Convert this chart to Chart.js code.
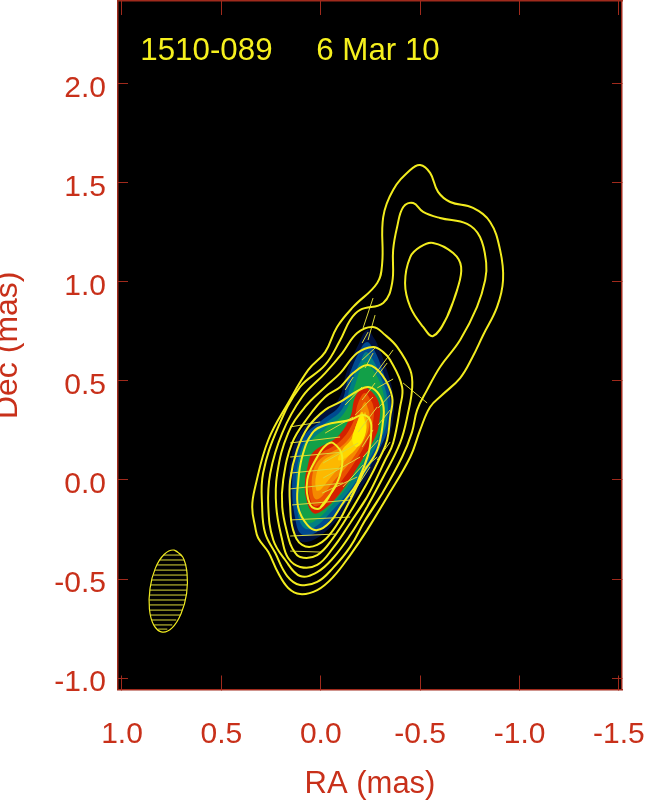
<!DOCTYPE html>
<html>
<head>
<meta charset="utf-8">
<style>html,body{margin:0;padding:0;background:#fff}canvas{display:block}</style>
<script src="https://cdn.jsdelivr.net/npm/chart.js@4/dist/chart.umd.min.js"></script>
</head>
<body>
<canvas id="c" width="645" height="801" style="width:645px;height:801px"></canvas>
<script>
const sourceName = '1510-089';
const obsDate = '6 Mar 10';
const xTickValues = [1, 0.5, 0, -0.5, -1, -1.5];
const yTickValues = [-1, -0.5, 0, 0.5, 1, 1.5, 2];
const xRange = [-1.5153, 1.0201];
const yRange = [-1.058, 2.419];

// contours: [RA, Dec] in mas; each list starts on a straight flank of the curve
const contour1 = [[-0.334,-0.086],[-0.233,-0.253],[-0.148,-0.379],[-0.062,-0.490],[0.018,-0.556],[0.104,-0.576],[0.164,-0.545],[0.214,-0.470],[0.264,-0.364],[0.315,-0.293],[0.330,-0.237],[0.345,-0.136],[0.330,-0.035],[0.264,0.202],[0.164,0.389],[0.063,0.556],[-0.022,0.646],[-0.082,0.773],[-0.163,0.874],[-0.284,0.995],[-0.309,1.096],[-0.314,1.328],[-0.364,1.465],[-0.450,1.566],[-0.500,1.591],[-0.550,1.551],[-0.590,1.455],[-0.651,1.404],[-0.766,1.374],[-0.852,1.303],[-0.902,1.162],[-0.917,1.010],[-0.887,0.874],[-0.817,0.732],[-0.761,0.616],[-0.701,0.515],[-0.610,0.429],[-0.550,0.369],[-0.500,0.253],[-0.450,0.116]];
const contour2 = [[-0.304,-0.076],[-0.218,-0.212],[-0.148,-0.338],[-0.062,-0.444],[0.018,-0.515],[0.104,-0.530],[0.169,-0.485],[0.229,-0.369],[0.280,-0.268],[0.295,-0.136],[0.290,0.035],[0.214,0.268],[0.104,0.470],[-0.022,0.581],[-0.098,0.707],[-0.148,0.808],[-0.198,0.859],[-0.314,0.894],[-0.359,0.995],[-0.364,1.162],[-0.384,1.278],[-0.415,1.379],[-0.465,1.399],[-0.515,1.354],[-0.600,1.323],[-0.736,1.293],[-0.801,1.227],[-0.832,1.096],[-0.827,1.010],[-0.786,0.874],[-0.701,0.707],[-0.600,0.571],[-0.535,0.455],[-0.485,0.354],[-0.459,0.242],[-0.409,0.116]];
const contourLobe = [[-0.686,0.960],[-0.635,0.823],[-0.565,0.727],[-0.515,0.773],[-0.450,0.874],[-0.424,0.995],[-0.450,1.126],[-0.500,1.177],[-0.565,1.197],[-0.666,1.146],[-0.706,1.076]];
const contour3 = [[-0.314,0.015],[-0.233,-0.136],[-0.148,-0.278],[-0.062,-0.394],[0.018,-0.465],[0.104,-0.485],[0.179,-0.404],[0.239,-0.303],[0.264,-0.136],[0.254,0.035],[0.194,0.237],[0.094,0.419],[-0.022,0.540],[-0.108,0.641],[-0.183,0.742],[-0.263,0.773],[-0.324,0.732],[-0.384,0.672],[-0.450,0.556],[-0.460,0.470],[-0.439,0.338],[-0.399,0.187]];
const contour4 = [[-0.233,-0.086],[-0.148,-0.217],[-0.062,-0.343],[0.018,-0.429],[0.104,-0.439],[0.164,-0.394],[0.194,-0.303],[0.224,-0.136],[0.219,0.035],[0.164,0.237],[0.079,0.369],[-0.022,0.470],[-0.098,0.540],[-0.183,0.641],[-0.263,0.672],[-0.314,0.646],[-0.349,0.606],[-0.409,0.470],[-0.399,0.369],[-0.364,0.187],[-0.324,0.101]];
const contour5 = [[-0.233,-0.015],[-0.148,-0.162],[-0.062,-0.293],[0.018,-0.379],[0.104,-0.389],[0.144,-0.343],[0.164,-0.288],[0.194,-0.136],[0.189,0],[0.144,0.187],[0.063,0.318],[-0.022,0.419],[-0.098,0.470],[-0.163,0.540],[-0.238,0.581],[-0.309,0.530],[-0.359,0.419],[-0.349,0.318],[-0.334,0.202],[-0.299,0.116]];
const contour6 = [[-0.213,0.035],[-0.148,-0.101],[-0.062,-0.253],[0.018,-0.328],[0.094,-0.328],[0.139,-0.253],[0.154,-0.136],[0.154,0],[0.119,0.152],[0.063,0.268],[-0.022,0.354],[-0.098,0.394],[-0.183,0.449],[-0.238,0.470],[-0.284,0.444],[-0.314,0.379],[-0.314,0.303],[-0.284,0.152]];
const contour7 = [[-0.183,-0.015],[-0.238,0.126],[-0.253,0.227],[-0.248,0.303],[-0.208,0.328],[-0.148,0.303],[-0.022,0.278],[0.043,0.237],[0.094,0.116],[0.114,-0.015],[0.114,-0.136],[0.068,-0.227],[0.018,-0.253],[-0.047,-0.212],[-0.112,-0.116]];
const contour8 = [[-0.082,-0.015],[0.003,-0.141],[0.053,-0.126],[0.068,0],[0.018,0.116],[-0.022,0.172],[-0.062,0.187],[-0.108,0.116]];

// clean beam outline and its horizontal hatching
const beamOutline = [[0.737,-0.354],[0.695,-0.388],[0.673,-0.469],[0.675,-0.574],[0.703,-0.676],[0.748,-0.747],[0.798,-0.768],[0.840,-0.733],[0.862,-0.653],[0.859,-0.547],[0.832,-0.445],[0.787,-0.375]];
const hatchDec = [-0.379,-0.404,-0.429,-0.455,-0.480,-0.505,-0.530,-0.556,-0.581,-0.606,-0.631,-0.657,-0.682,-0.707,-0.732,-0.753];
const hatchEast = [0.792,0.813,0.823,0.835,0.843,0.850,0.855,0.860,0.863,0.863,0.863,0.863,0.858,0.850,0.838,0.818];
const hatchWest = [0.702,0.687,0.677,0.672,0.672,0.672,0.672,0.674,0.677,0.682,0.689,0.697,0.707,0.727,0.747,0.772];

// polarisation sticks: [RA1, Dec1, RA2, Dec2]
const sticks = [[0.154,0.268,0.003,0.293],[0.154,0.187,-0.097,0.217],[0.154,0.116,-0.112,0.141],[0.154,0.035,-0.108,0.061],[0.154,-0.045,-0.112,-0.015],[0.144,-0.126,-0.148,-0.101],[0.154,-0.202,-0.148,-0.187],[0.154,-0.283,-0.072,-0.273],[0.154,-0.359,-0.002,-0.364],
[-0.213,0.768,-0.263,0.919],[-0.238,0.707,-0.273,0.833],[-0.208,0.692,-0.238,0.747],[-0.208,0.606,-0.273,0.667],[-0.223,0.566,-0.263,0.641],[-0.263,0.520,-0.364,0.657],[-0.299,0.545,-0.334,0.591],[-0.123,0.455,-0.163,0.520],[-0.284,0.465,-0.364,0.510],[-0.123,0.379,-0.208,0.470],[-0.208,0.404,-0.273,0.490],[-0.289,0.364,-0.349,0.429],[-0.022,0.237,-0.163,0.318],[-0.173,0.328,-0.263,0.419],[-0.188,0.242,-0.284,0.369],[-0.289,0.278,-0.349,0.354],[-0.012,0.086,-0.188,0.187],[-0.208,0.167,-0.263,0.253],[-0.012,0.010,-0.198,0.116],[-0.213,0.116,-0.289,0.202],[-0.007,-0.066,-0.183,0.015],[-0.208,0.051,-0.284,0.116],[-0.112,-0.035,-0.213,0.076],[-0.284,0.101,-0.349,0.192],[-0.148,-0.086,-0.248,0.066],[-0.414,0.490,-0.535,0.389]];

// intensity image, outermost level first
const levelNavy = [[-0.233,0.758],[-0.274,0.707],[-0.324,0.581],[-0.364,0.429],[-0.359,0.278],[-0.299,0.126],[-0.198,-0.050],[-0.072,-0.212],[0.038,-0.303],[0.114,-0.303],[0.149,-0.202],[0.164,-0.040],[0.149,0.111],[0.104,0.242],[0.003,0.328],[-0.087,0.404],[-0.133,0.556],[-0.188,0.682]];
const levelBlue = [[-0.233,0.697],[-0.269,0.657],[-0.314,0.545],[-0.349,0.419],[-0.344,0.278],[-0.284,0.136],[-0.183,-0.035],[-0.057,-0.192],[0.038,-0.273],[0.099,-0.273],[0.129,-0.192],[0.144,-0.040],[0.129,0.101],[0.089,0.217],[-0.007,0.303],[-0.097,0.379],[-0.143,0.530],[-0.198,0.657]];
const levelTeal = [[-0.228,0.646],[-0.263,0.606],[-0.304,0.515],[-0.334,0.414],[-0.329,0.278],[-0.269,0.152],[-0.168,-0.020],[-0.042,-0.172],[0.038,-0.242],[0.084,-0.242],[0.114,-0.177],[0.124,-0.040],[0.114,0.091],[0.074,0.202],[-0.017,0.283],[-0.108,0.359],[-0.158,0.505],[-0.203,0.606]];
const levelGreen = [[-0.228,0.596],[-0.263,0.556],[-0.299,0.490],[-0.319,0.404],[-0.314,0.278],[-0.254,0.162],[-0.153,-0.005],[-0.032,-0.152],[0.038,-0.212],[0.074,-0.212],[0.099,-0.162],[0.109,-0.040],[0.099,0.076],[0.063,0.182],[-0.027,0.263],[-0.118,0.338],[-0.173,0.480],[-0.198,0.556]];
const levelRed = [[-0.218,0.470],[-0.258,0.444],[-0.294,0.384],[-0.294,0.293],[-0.274,0.217],[-0.198,0.086],[-0.098,-0.066],[-0.012,-0.152],[0.038,-0.167],[0.074,-0.091],[0.079,0],[0.068,0.061],[0.038,0.141],[-0.082,0.217],[-0.148,0.318],[-0.173,0.419]];
const levelRedOrange = [[-0.223,0.439],[-0.263,0.379],[-0.263,0.293],[-0.243,0.217],[-0.168,0.086],[-0.077,-0.040],[-0.007,-0.116],[0.033,-0.131],[0.058,-0.076],[0.063,0],[0.048,0.066],[0.018,0.121],[-0.098,0.197],[-0.163,0.293],[-0.188,0.389]];
const levelOrange = [[-0.223,0.394],[-0.243,0.343],[-0.243,0.268],[-0.218,0.202],[-0.148,0.091],[-0.062,-0.010],[-0.002,-0.086],[0.028,-0.096],[0.043,-0.050],[0.043,0.020],[0.023,0.081],[-0.017,0.121],[-0.112,0.177],[-0.178,0.268],[-0.198,0.343]];
const levelGold = [[-0.223,0.343],[-0.233,0.268],[-0.198,0.192],[-0.123,0.101],[-0.047,0.010],[0.003,-0.050],[0.023,-0.050],[0.023,0.025],[-0.007,0.091],[-0.057,0.126],[-0.148,0.177],[-0.193,0.263]];
const levelBright = [[-0.208,0.343],[-0.228,0.263],[-0.188,0.172],[-0.123,0.111],[-0.087,0.101],[-0.108,0.152],[-0.158,0.212],[-0.178,0.278]];
const levelYellow = [[-0.208,0.328],[-0.228,0.263],[-0.208,0.192],[-0.178,0.167],[-0.158,0.202],[-0.173,0.263]];

const RED = '#c8301a', AXIS = '#a02a1c', YEL = '#f2ec1e', THIN = '#dcd83a';
const pts = a => a.map(p => ({x: p[0], y: p[1]}));
const closed = a => pts(a.concat([a[0], a[1]]));
const contourSet = a => ({data: closed(a), showLine: true, pointRadius: 0, borderColor: YEL, borderWidth: 2, tension: 0.4, fill: false});
const levelSet = (a, c) => ({data: closed(a), showLine: true, pointRadius: 0, borderWidth: 0, borderColor: c, backgroundColor: c, tension: 0.4, fill: 'shape'});

const stickData = [];
sticks.forEach(s => stickData.push({x: s[0], y: s[1]}, {x: s[2], y: s[3]}, {x: s[2], y: null}));
const hatchData = [];
hatchDec.forEach((d, i) => hatchData.push({x: hatchEast[i], y: d}, {x: hatchWest[i], y: d}, {x: hatchWest[i], y: null}));

const datasets = [
  {data: hatchData, showLine: true, pointRadius: 0, borderColor: THIN, borderWidth: 1, tension: 0, spanGaps: false},
  {data: closed(beamOutline), showLine: true, pointRadius: 0, borderColor: YEL, borderWidth: 1.2, tension: 0.4},
  contourSet(contour8), contourSet(contour7), contourSet(contour6), contourSet(contour5), contourSet(contour4),
  contourSet(contour3), contourSet(contourLobe), contourSet(contour2), contourSet(contour1),
  {data: stickData, showLine: true, pointRadius: 0, borderColor: THIN, borderWidth: 1, tension: 0, spanGaps: false},
  levelSet(levelYellow, '#ffee00'), levelSet(levelBright, '#ffd400'), levelSet(levelGold, '#fdb800'), levelSet(levelOrange, '#f58a00'),
  levelSet(levelRedOrange, '#ea5200'), levelSet(levelRed, '#d42000'), levelSet(levelGreen, '#12a048'),
  levelSet(levelTeal, '#007f82'), levelSet(levelBlue, '#004a90'), levelSet(levelNavy, '#00103e')
];

const setTicks = list => s => { s.ticks = list.map(v => ({value: v})); };
const fmt = v => Number(v).toFixed(1);
const family = '"Liberation Sans", Arial, sans-serif';
const tickFont = {family, size: 30};
const fitBox = (w, h) => s => {
  if (w !== null) s.width = w;
  if (h !== null) s.height = h;
  s.paddingLeft = s.paddingRight = s.paddingTop = s.paddingBottom = 0;
};

const plugin = {
  id: 'plate',
  beforeDraw(chart) {
    const a = chart.chartArea, g = chart.ctx;
    g.save(); g.fillStyle = '#000'; g.fillRect(a.left, a.top, a.width, a.height); g.restore();
  },
  afterUpdate(chart) {
    chart.scales.y.getLabelItems().forEach(i => { i.options.translation[1] += 5; });
  },
  afterDatasetsDraw(chart) {
    const g = chart.ctx, sx = chart.scales.x, sy = chart.scales.y;
    g.save();
    g.fillStyle = '#f6f01e';
    g.font = '31.3px ' + family;
    g.textBaseline = 'alphabetic';
    g.fillText(sourceName, sx.getPixelForValue(0.908), sy.getPixelForValue(2.121));
    g.fillText(obsDate, sx.getPixelForValue(0.023), sy.getPixelForValue(2.121));
    g.restore();
  }
};

new Chart(document.getElementById('c'), {
  type: 'scatter',
  data: {datasets},
  plugins: [plugin],
  options: {
    responsive: false,
    animation: false,
    devicePixelRatio: 1,
    layout: {padding: 0},
    plugins: {legend: {display: false}, tooltip: {enabled: false}},
    elements: {line: {capBezierPoints: false}},
    scales: {
      x: {
        type: 'linear', position: 'bottom', reverse: true, min: xRange[0], max: xRange[1],
        afterBuildTicks: setTicks(xTickValues),
        afterFit: fitBox(null, 111.5),
        grid: {drawOnChartArea: false, drawTicks: true, tickLength: -14, color: AXIS, lineWidth: 1},
        border: {color: AXIS, width: 1.5},
        ticks: {color: RED, font: tickFont, padding: 41, autoSkip: false, maxRotation: 0, callback: fmt},
        title: {display: true, text: 'RA (mas)', color: RED, font: {family, size: 31}, padding: {top: 0, bottom: -2}}
      },
      x2: {
        type: 'linear', position: 'top', reverse: true, min: xRange[0], max: xRange[1],
        afterBuildTicks: setTicks(xTickValues),
        afterFit: fitBox(null, 1),
        grid: {drawOnChartArea: false, drawTicks: true, tickLength: -14, color: AXIS, lineWidth: 1},
        border: {color: AXIS, width: 1.5},
        ticks: {display: false}
      },
      y: {
        type: 'linear', position: 'left', min: yRange[0], max: yRange[1],
        afterBuildTicks: setTicks(yTickValues),
        afterFit: fitBox(118, null),
        grid: {drawOnChartArea: false, drawTicks: true, tickLength: -10, color: AXIS, lineWidth: 1},
        border: {color: AXIS, width: 1.5},
        ticks: {color: RED, font: tickFont, padding: 22, autoSkip: false, callback: fmt},
        title: {display: true, text: 'Dec (mas)', color: RED, font: {family, size: 32}, padding: {top: -11, bottom: 0}}
      },
      y2: {
        type: 'linear', position: 'right', min: yRange[0], max: yRange[1],
        afterBuildTicks: setTicks(yTickValues),
        afterFit: fitBox(23, null),
        grid: {drawOnChartArea: false, drawTicks: true, tickLength: -10, color: AXIS, lineWidth: 1},
        border: {color: AXIS, width: 1.5},
        ticks: {display: false}
      }
    }
  }
});
</script>
</body>
</html>
